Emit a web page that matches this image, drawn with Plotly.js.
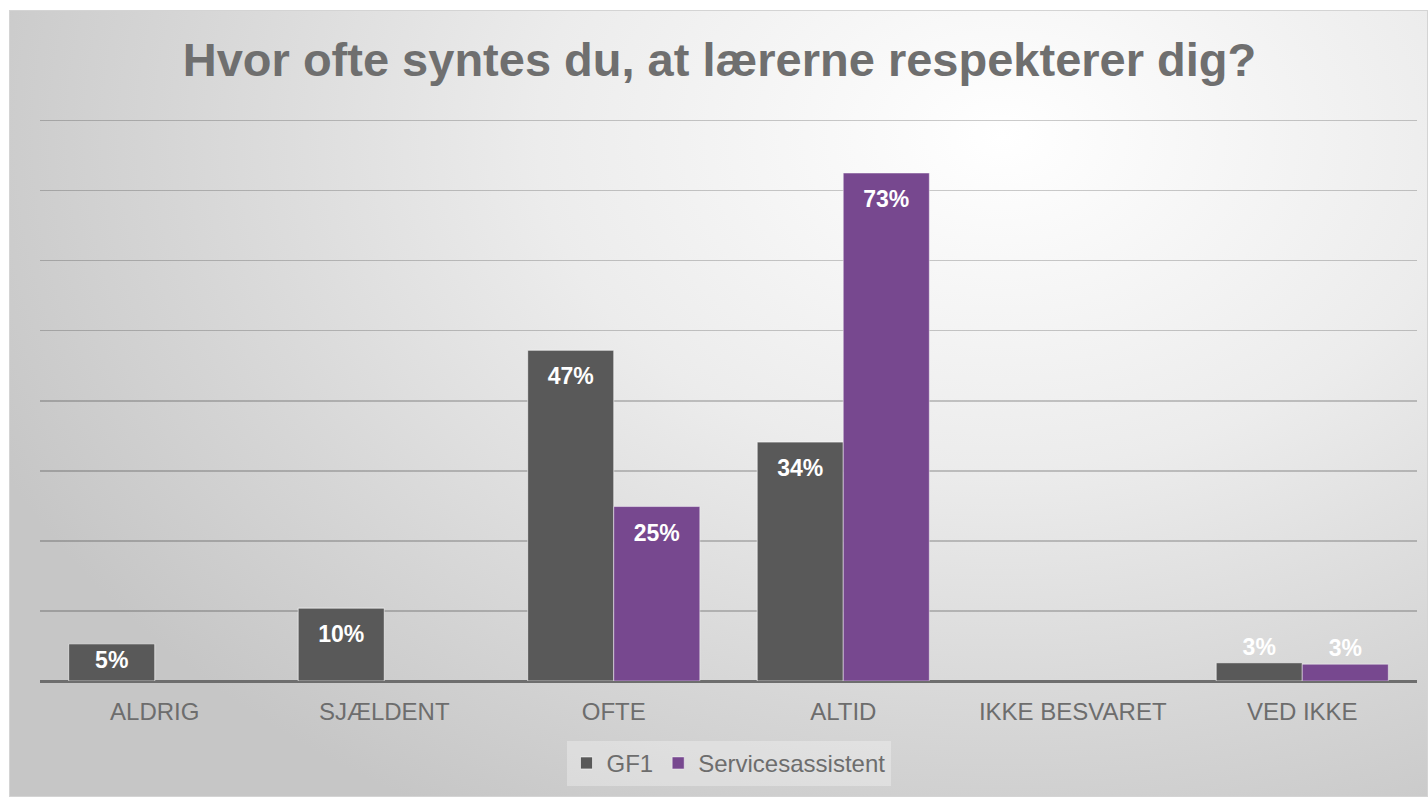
<!DOCTYPE html>
<html>
<head>
<meta charset="utf-8">
<script src="https://cdn.plot.ly/plotly-3.0.1.min.js"></script>
<style>
  html, body { margin: 0; padding: 0; background: #ffffff; width: 1428px; height: 797px; overflow: hidden; }
  #chart {
    position: absolute; left: 9px; top: 10px; width: 1419px; height: 787px;
    box-sizing: border-box; border: 1px solid #d4d4d4;
    background: radial-gradient(ellipse 78% 100% at 70% 16%, #ffffff 0%, #ececec 42%, #d6d6d6 75%, #c6c6c6 100%);
  }
</style>
</head>
<body>
<div id="chart"></div>
<script>
const categories = ["ALDRIG", "SJÆLDENT", "OFTE", "ALTID", "IKKE BESVARET", "VED IKKE"];
const gf1Values = [5.3, 10.4, 47.2, 34.1, null, 2.6];
const serviceValues = [null, null, 24.9, 72.5, null, 2.4];
const gf1Labels = ["5%", "10%", "47%", "34%", "", "3%"];
const serviceLabels = ["", "", "25%", "73%", "", "3%"];
const seriesNames = ["GF1", "Servicesassistent"];
const gf1LabelPos = ["inside", "inside", "inside", "inside", "inside", "outside"];
const serviceLabelPos = ["inside", "inside", "inside", "inside", "inside", "outside"];

const labelFont = { family: "Liberation Sans, Arial, sans-serif", size: 23, color: "#ffffff", weight: "bold" };
// a tall invisible spacer pushes the inside label a little lower from the bar top
const spacer = '<span style="font-size:34px">\u00a0</span>';
const padded = spacer + "%{text}" + spacer;
const plain = "%{text}";
const gf1Templates = [plain, padded, padded, padded, padded, plain];
const serviceTemplates = [padded, padded, padded, padded, padded, plain];

const traces = [
  {
    type: "bar", name: seriesNames[0], x: categories, y: gf1Values,
    text: gf1Labels, texttemplate: gf1Templates,
    textposition: gf1LabelPos, insidetextanchor: "end",
    constraintext: "none", textangle: 0, cliponaxis: false,
    textfont: labelFont, outsidetextfont: labelFont,
    marker: { color: "#595959", line: { color: "rgba(255,255,255,0.6)", width: 1 } },
    hoverinfo: "skip"
  },
  {
    type: "bar", name: seriesNames[1], x: categories, y: serviceValues,
    text: serviceLabels, texttemplate: serviceTemplates,
    textposition: serviceLabelPos, insidetextanchor: "end",
    constraintext: "none", textangle: 0, cliponaxis: false,
    textfont: labelFont, outsidetextfont: labelFont,
    marker: { color: "#77488f", line: { color: "rgba(255,255,255,0.45)", width: 1 } },
    hoverinfo: "skip"
  }
];

const layout = {
  width: 1419, height: 787,
  paper_bgcolor: "rgba(0,0,0,0)", plot_bgcolor: "rgba(0,0,0,0)",
  margin: { l: 30, r: 12, t: 106, b: 114 },
  font: { family: "Liberation Sans, Arial, sans-serif", color: "#6d6d6d" },
  title: {
    text: "<b>Hvor ofte syntes du, at lærerne respekterer dig?</b>",
    font: { size: 47, color: "#6f6f6f", family: "Liberation Sans, Arial, sans-serif" },
    x: 0.5, xanchor: "center", xref: "container",
    y: 1 - 49 / 787, yanchor: "middle", yref: "container"
  },
  barmode: "group", bargap: 0.25, bargroupgap: 0,
  xaxis: {
    type: "category", showgrid: false, showline: false, ticks: "",
    tickfont: { size: 24, color: "#6d6d6d" }, ticklabelstandoff: 14
  },
  yaxis: {
    range: [0, 80.5], tick0: 0, dtick: 10, showticklabels: false, ticks: "",
    showgrid: true, gridcolor: "rgba(0,0,0,0.2)", gridwidth: 1.5,
    zeroline: true, zerolinecolor: "#6e6e6e", zerolinewidth: 3, showline: false
  },
  showlegend: true,
  legend: {
    orientation: "h", x: 0.5, xanchor: "center", y: -0.146, yanchor: "middle",
    bgcolor: "rgba(255,255,255,0.3)", font: { size: 24, color: "#6d6d6d" },
    itemwidth: 30, traceorder: "normal"
  }
};

Plotly.newPlot("chart", traces, layout, { displayModeBar: false, staticPlot: true });
</script>
</body>
</html>
